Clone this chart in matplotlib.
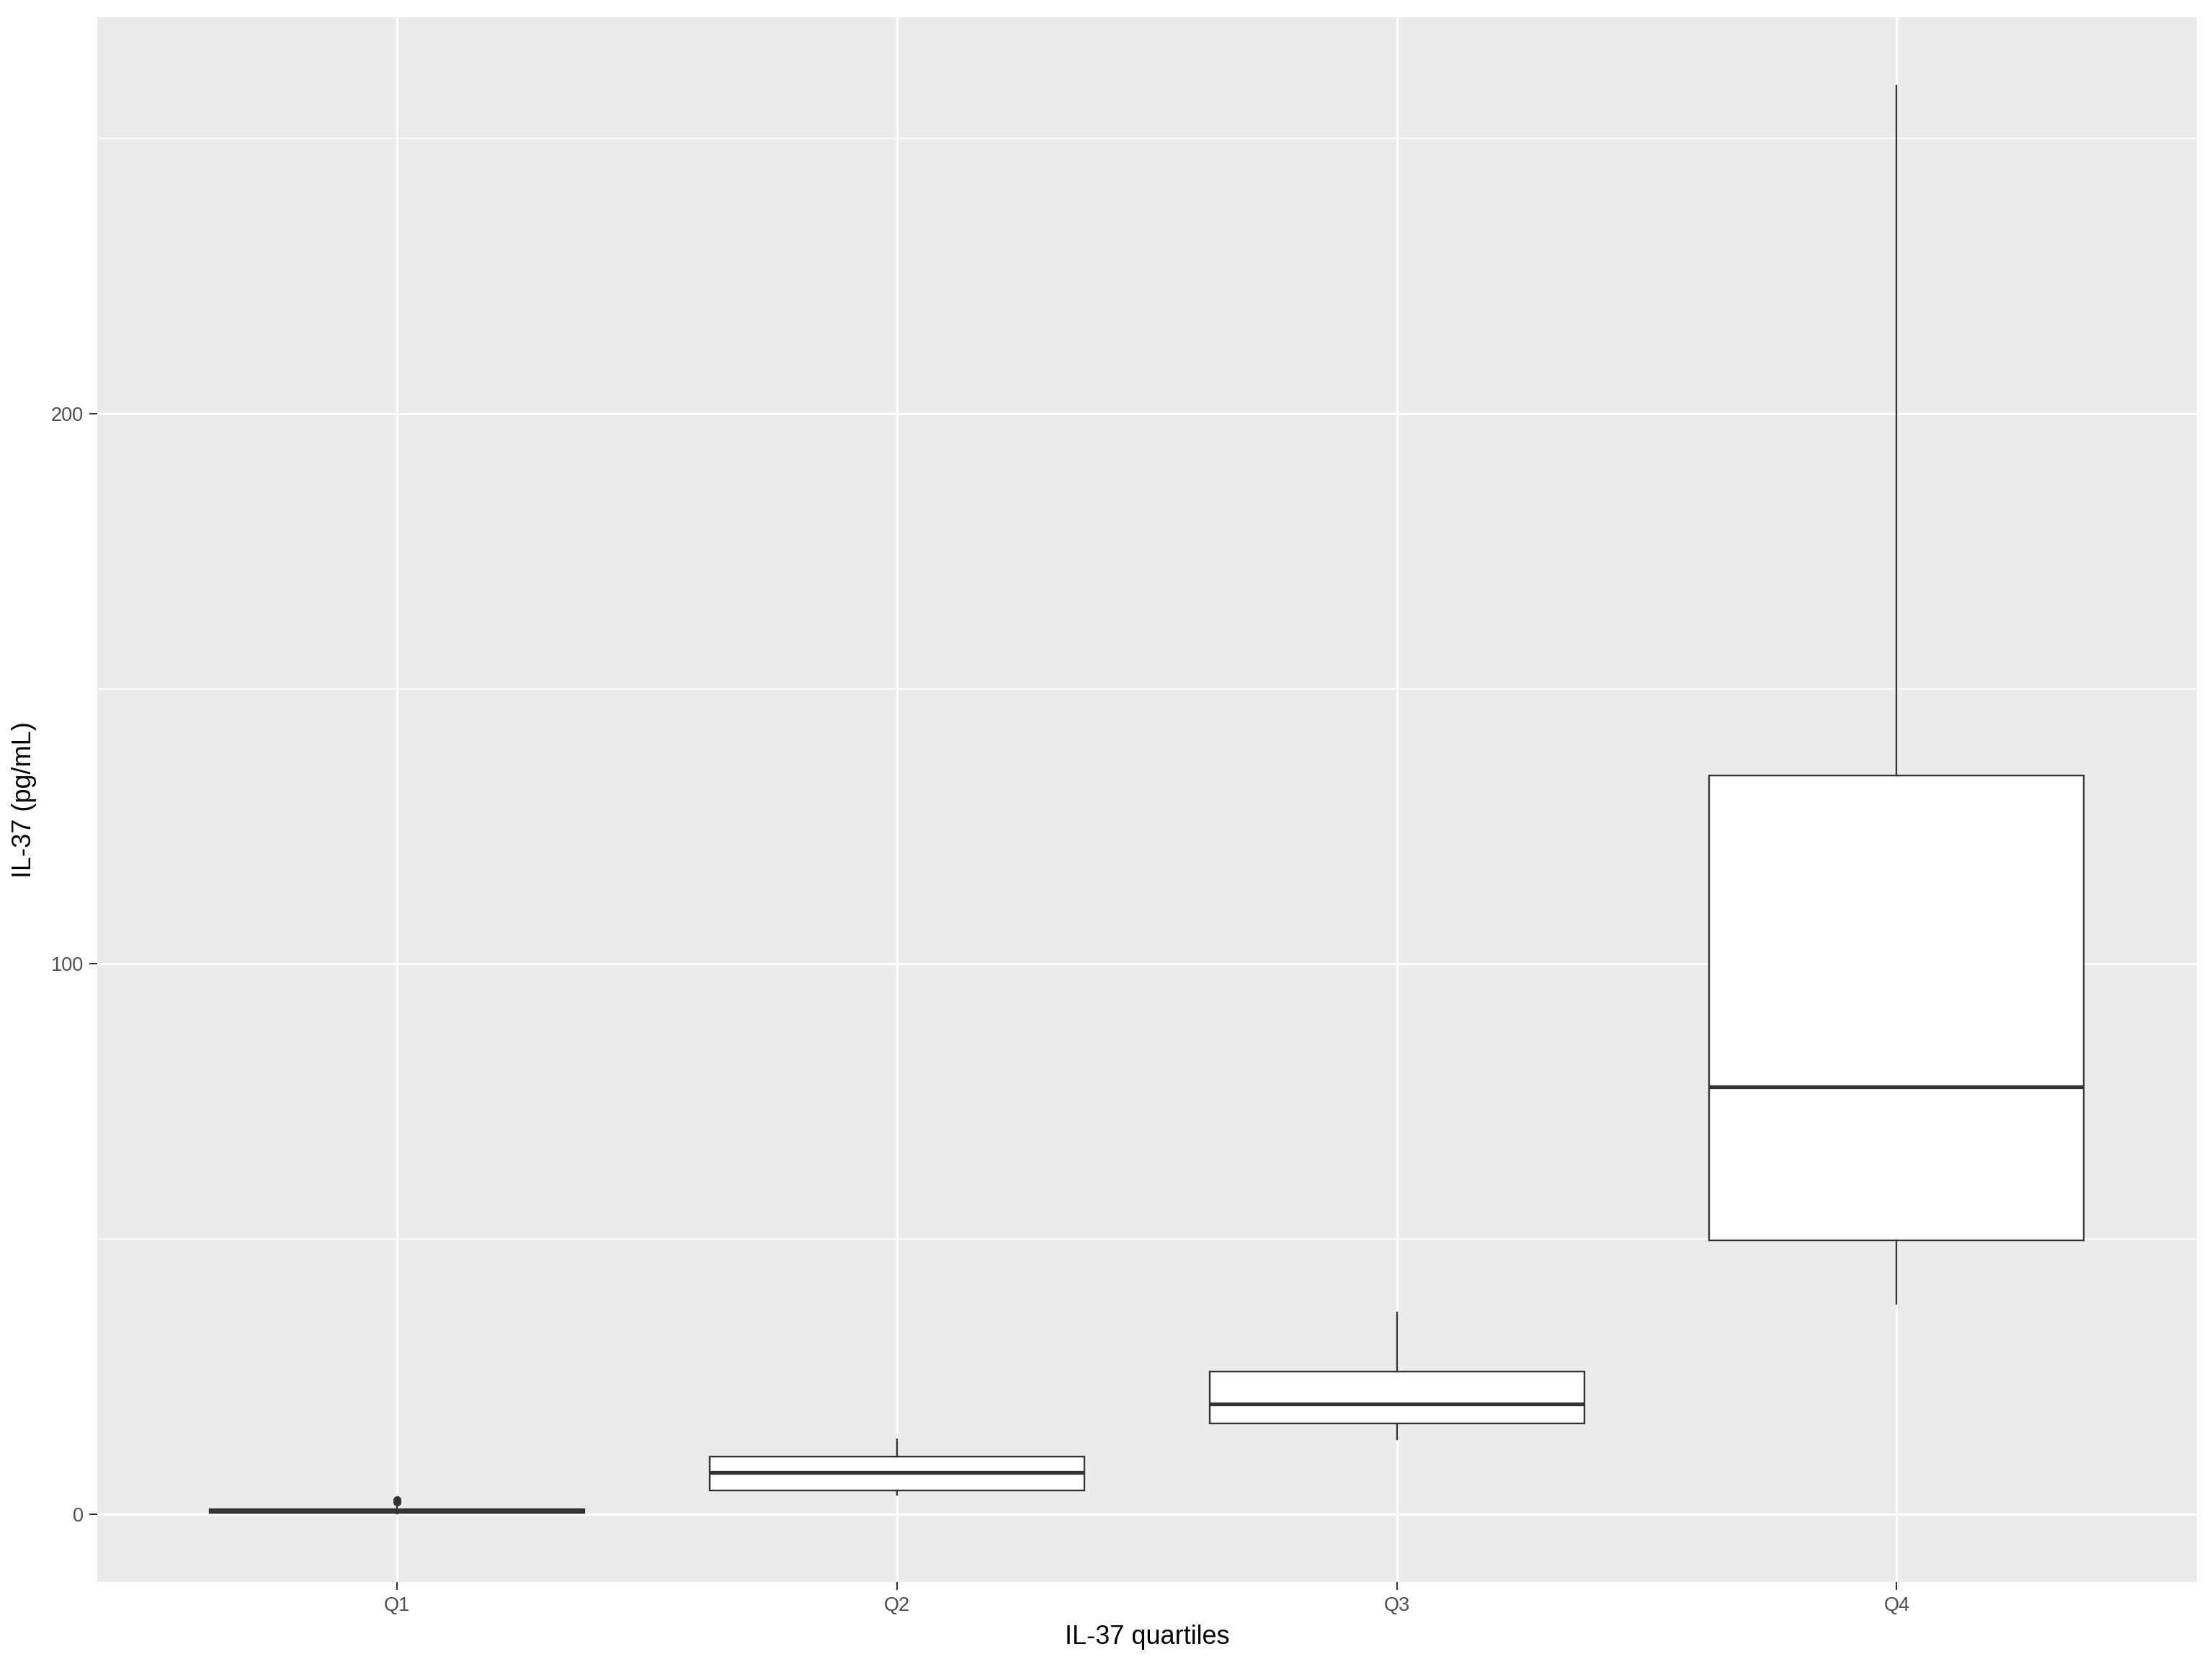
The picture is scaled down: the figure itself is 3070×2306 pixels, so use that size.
import matplotlib.pyplot as plt

# === values ===
groups = ["Q1", "Q2", "Q3", "Q4"]
whisker_low = [0.1, 3.5, 13.6, 38.2]
box_low = [0.3, 4.3, 16.5, 49.8]
medians = [0.6, 7.6, 20.0, 77.7]
box_high = [1.0, 10.5, 25.9, 134.3]
whisker_high = [1.5, 13.6, 36.7, 259.5]
outliers = [[2.2, 2.7], [], [], []]

plt.rcParams['font.family'] = ['Liberation Sans', 'DejaVu Sans']

stats = []
for i, g in enumerate(groups):
    stats.append(dict(label=g, whislo=whisker_low[i], q1=box_low[i], med=medians[i],
                      q3=box_high[i], whishi=whisker_high[i], fliers=outliers[i]))

fig = plt.figure(figsize=(30.7, 23.06), dpi=100)
ax = fig.add_axes([0.044, 0.0481, 0.949, 0.9417])
ax.set_facecolor('#EBEBEB')

# grid like ggplot theme_grey
for y in [50, 150, 250]:
    ax.axhline(y, color='white', lw=1.1, zorder=0)
for y in [0, 100, 200]:
    ax.axhline(y, color='white', lw=2.2, zorder=0)
for x in range(1, len(groups) + 1):
    ax.axvline(x, color='white', lw=2.2, zorder=0)

dark = '#333333'
ax.bxp(stats, positions=range(1, len(groups) + 1), widths=0.75, patch_artist=True,
       showcaps=False,
       boxprops=dict(facecolor='white', edgecolor=dark, linewidth=1.7),
       whiskerprops=dict(color=dark, linewidth=1.7),
       medianprops=dict(color=dark, linewidth=3.8),
       flierprops=dict(marker='o', markerfacecolor=dark, markeredgecolor=dark, markersize=7),
       zorder=2)

ax.set_xlim(0.4, 4.6)
ax.set_ylim(-12.3, 272.05)
ax.set_yticks([0, 100, 200])
ax.set_xticks(range(1, len(groups) + 1))
ax.set_xticklabels(groups)

for s in ax.spines.values():
    s.set_visible(False)
ax.tick_params(axis='both', colors=dark, length=8, width=1.5, labelsize=19.5, labelcolor='#4D4D4D')
ax.tick_params(axis='x', pad=6)
ax.tick_params(axis='y', pad=6)

ax.set_xlabel("IL-37 quartiles", fontsize=26, color='black', labelpad=10)
ax.set_ylabel("IL-37 (pg/mL)", fontsize=26, color='black', labelpad=14)

fig.savefig("out.png", dpi=100, facecolor='white')
